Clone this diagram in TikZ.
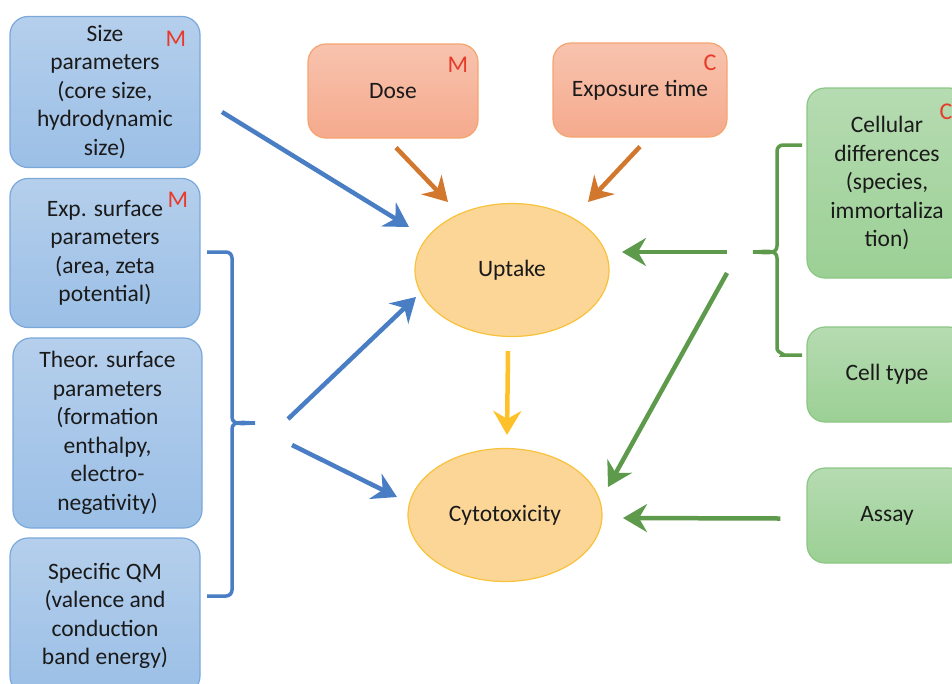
\documentclass[tikz,border=0pt]{standalone}
\usepackage{fontspec}
\setmainfont{Carlito}
\usetikzlibrary{arrows.meta,calc,shapes.geometric}
\definecolor{bfillT}{HTML}{B5CFEC}
\definecolor{bfillB}{HTML}{9BBFE6}
\definecolor{bbord}{HTML}{7AA8DB}
\definecolor{barr}{HTML}{4A7EC4}
\definecolor{ofillT}{HTML}{F8C3AE}
\definecolor{ofillB}{HTML}{F5AA8D}
\definecolor{obord}{HTML}{F6A46F}
\definecolor{oarr}{HTML}{D2772E}
\definecolor{efill}{HTML}{FCD697}
\definecolor{ebord}{HTML}{F8C23C}
\definecolor{yarr}{HTML}{FFC12A}
\definecolor{gfillT}{HTML}{B6DBB2}
\definecolor{gfillB}{HTML}{9BD094}
\definecolor{gbord}{HTML}{8CC684}
\definecolor{garr}{HTML}{5D9A4B}
\definecolor{redl}{HTML}{E83A2A}
\definecolor{txt}{HTML}{1A1A1A}
\begin{document}
\begin{tikzpicture}[x=1pt,y=-1pt,
  txtfont/.style={font=\fontsize{23.5}{28.5}\selectfont, text=txt},
  box/.style={rounded corners=18pt, line width=1.2pt, align=center, inner sep=0pt, txtfont},
  bluebox/.style={box, draw=bbord, top color=bfillT, bottom color=bfillB},
  orangebox/.style={box, draw=obord, top color=ofillT, bottom color=ofillB},
  greenbox/.style={box, draw=gbord, top color=gfillT, bottom color=gfillB},
  oval/.style={ellipse, draw=ebord, fill=efill, line width=1.2pt, minimum width=194pt, minimum height=133pt, inner sep=0pt, txtfont},
  tag/.style={font=\fontsize{24}{28}\selectfont, text=redl, inner sep=0pt},
  arr/.style={line width=4.5pt, -{Stealth[length=24pt,width=28pt,inset=8pt]}},
  barrow/.style={arr, draw=barr},
  oarrow/.style={arr, draw=oarr},
  yarrow/.style={arr, draw=yarr},
  garrow/.style={arr, draw=garr},
  bbrace/.style={draw=barr, line width=3.5pt},
  gbrace/.style={draw=garr, line width=3.5pt}
]
\useasboundingbox (0,0) rectangle (952,683);
\clip (0,0) rectangle (952,683);

% left blue boxes
\node[bluebox, minimum width=190pt, minimum height=151pt] (s1) at (105,92)
  {Size\\parameters\\(core size,\\hydrodynamic\\size)};
\node[bluebox, minimum width=190pt, minimum height=149pt] (s2) at (105,253)
  {Exp. surface\\parameters\\(area, zeta\\potential)};
\node[bluebox, minimum width=189pt, minimum height=190pt] (s3) at (107.5,433)
  {Theor. surface\\parameters\\(formation\\enthalpy,\\electro-\\negativity)};
\node[bluebox, minimum width=190pt, minimum height=156pt] (s4) at (105,616)
  {Specific QM\\(valence and\\conduction\\band energy)};
\node[tag] (m1) at (176,39) {M};
\node[tag] (m2) at (178,200) {M};

% top orange boxes
\node[orangebox, minimum width=170pt, minimum height=94pt] (dose) at (393,91) {Dose};
\node[orangebox, minimum width=174pt, minimum height=94pt] (expo) at (640,90) {Exposure time};
\node[tag] (m3) at (458,65) {M};
\node[tag] (c1) at (710,63) {C};

% ellipses
\node[oval] (up) at (512,270) {Uptake};
\node[oval] (cy) at (505,515) {Cytotoxicity};

% right green boxes
\node[greenbox, minimum width=160pt, minimum height=190pt] (cd) at (887,183)
  {Cellular\\differences\\(species,\\immortaliza\\tion)};
\node[greenbox, minimum width=160pt, minimum height=95pt] (ct) at (887,374.5) {Cell type};
\node[greenbox, minimum width=160pt, minimum height=95pt] (as) at (887,515.5) {Assay};
\node[tag] (c2) at (946,112) {C};

% blue brace
\draw[bbrace] (207,252) -- (226,252) to[out=0,in=90] (232,258) -- (232,417)
  to[out=-90,in=180] (255,423) to[out=180,in=90] (232,429) -- (232,590)
  to[out=-90,in=0] (226,596) -- (207,596);
% green brace
\draw[gbrace] (802,145) -- (783,145) to[out=180,in=90] (777,151) -- (777,246)
  to[out=-90,in=0] (753,252) to[out=0,in=90] (777,258) -- (777,349)
  to[out=-90,in=0] (783,355) -- (802,355);

% coordinates for free ends
\coordinate (a1s) at (222,112);
\coordinate (a2s) at (288,419);
\coordinate (a3s) at (292,445);
\coordinate (g1s) at (727,252);
\coordinate (g2s) at (727,273);

% arrows
\draw[barrow] (a1s) -- ($(up)+(-103,-43)$);
\draw[barrow] (a2s) -- ($(up)+(-96,27)$);
\draw[barrow] (a3s) -- ($(cy)+(-108,-18)$);
\draw[oarrow] ($(dose.south)+(3,9)$) -- ($(up)+(-64,-68)$);
\draw[oarrow] ($(expo.south)+(0,9)$) -- ($(up)+(76,-68)$);
\draw[yarrow] ($(up.south)+(-4,14)$) -- ($(cy.north)+(2,-13)$);
\draw[garrow] (g1s) -- ($(up)+(110,-18)$);
\draw[garrow] (g2s) -- ($(cy)+(103,-28)$);
\draw[garrow] ($(as.west)+(-26,3)$) -- ($(cy)+(118,3)$);
\end{tikzpicture}
\end{document}
